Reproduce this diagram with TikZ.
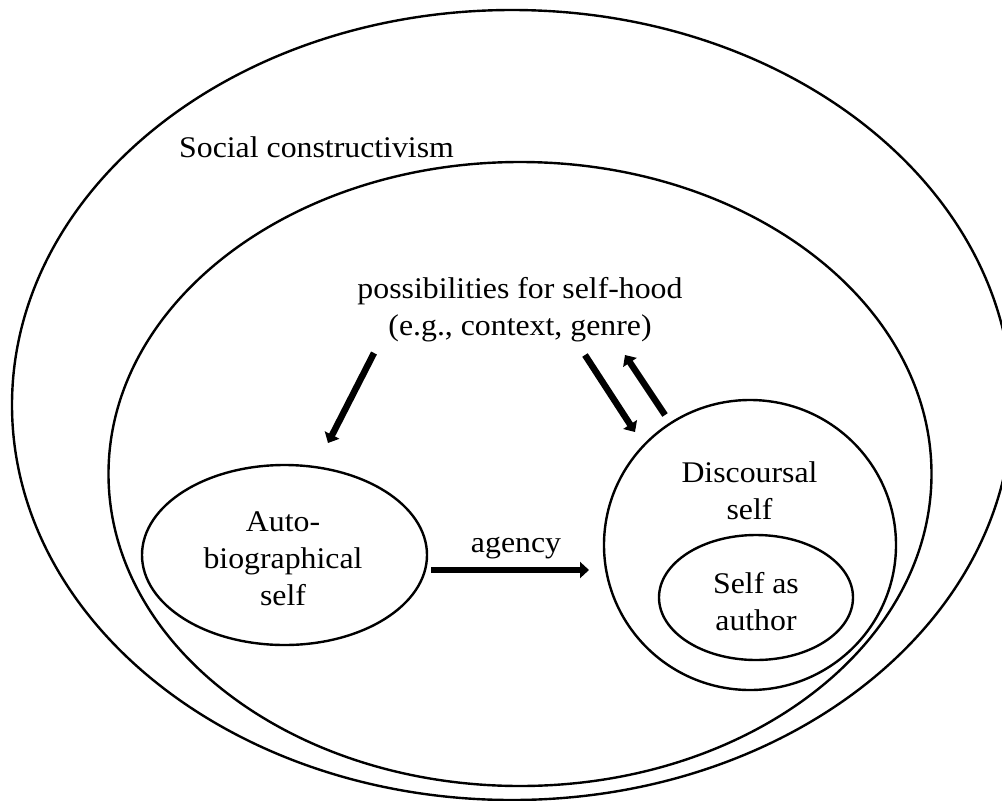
\documentclass[tikz,border=0pt]{standalone}
\usepackage{fontspec}
\setmainfont{Liberation Serif}[FakeStretch=1.06]
\usetikzlibrary{shapes.geometric,arrows.meta}
\tikzset{
  ring/.style={draw, line width=2.4pt, ellipse, inner sep=0pt, outer sep=0pt},
  lbl/.style={font=\fontsize{30}{37}\selectfont, inner sep=0pt, align=center},
  bigarrow/.style={line width=6.5pt, -{Triangle[width=16pt,length=9pt]}},
}
\begin{document}
\begin{tikzpicture}[x=1pt,y=-1pt]
\useasboundingbox (0,0) rectangle (1002,801);
\fill[white] (0,0) rectangle (1002,801);
\clip (0,0) rectangle (1002,801);
% containers
\node[ring, minimum width=1000pt, minimum height=790pt] (social) at (512,405) {};
\node[ring, minimum width=823pt, minimum height=624pt] (poss) at (520,474) {};
\node[ring, minimum width=285pt, minimum height=180pt] (auto) at (284.5,555) {};
\node[ring, minimum width=292pt, minimum height=290pt] (disc) at (750,545) {};
\node[ring, minimum width=194pt, minimum height=125pt] (author) at (756,597.5) {};
% labels
\node[lbl, anchor=base west] (socialtxt) at (179,157) {Social constructivism};
\node[lbl] (posstxt) at (520,309.1) {\strut possibilities for self-hood\\\strut (e.g., context, genre)};
\node[lbl] (autotxt) at (283,561.3) {\strut Auto-\\\strut biographical\\\strut self};
\node[lbl] (disctxt) at (749.5,493.1) {\strut Discoursal\\\strut self};
\node[lbl] (authortxt) at (756,604.1) {\strut Self as\\\strut author};
\node[lbl, anchor=base] (agency) at (516,552) {agency};
% arrow ends
\coordinate (a1s) at (374,353);
\coordinate (a1e) at (328,443);
\coordinate (a2s) at (585,355);
\coordinate (a2e) at (635,432);
\coordinate (a3s) at (665,415);
\coordinate (a3e) at (625,355);
\coordinate (a4s) at (431,570);
\coordinate (a4e) at (589,570);
\draw[bigarrow] (a1s) -- (a1e);
\draw[bigarrow] (a2s) -- (a2e);
\draw[bigarrow] (a3s) -- (a3e);
\draw[bigarrow] (a4s) -- (a4e);
\end{tikzpicture}
\end{document}
